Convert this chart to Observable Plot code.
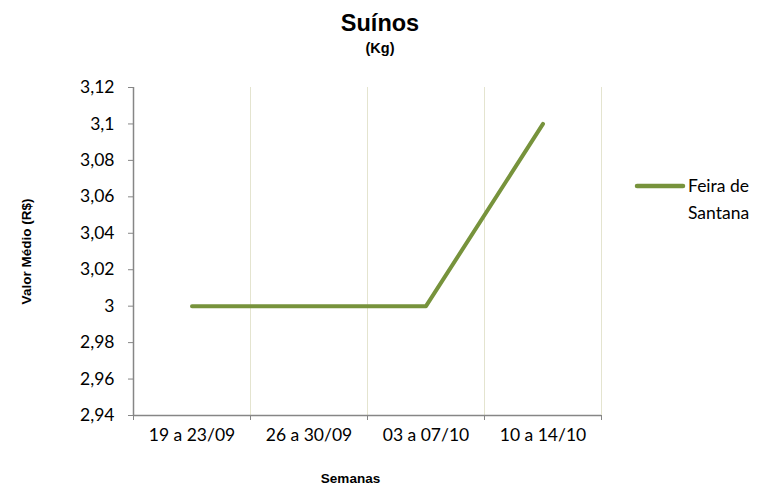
<!DOCTYPE html>
<html>
<head>
<meta charset="utf-8">
<script src="https://cdn.jsdelivr.net/npm/d3@7"></script>
<script src="https://cdn.jsdelivr.net/npm/@observablehq/plot@0.6"></script>
<style>
  body { margin: 0; background: #fff; }
  #wrap { position: relative; width: 758px; height: 488px; overflow: hidden; }
  #head { height: 70px; text-align: center; font-family: "Liberation Sans Narrow", "Arial Narrow", "Liberation Sans", sans-serif; font-weight: bold; color: #000; }
  #title { font-size: 23.5px; padding-top: 10px; line-height: 26px; padding-left: 2px; }
  #sub { font-size: 14.5px; line-height: 18px; margin-top: 3px; padding-left: 2px; }
  #legend { position: absolute; left: 634px; top: 172px; font-family: Lato, "Open Sans", sans-serif; font-size: 17.5px; color: #000; line-height: 27px; }
  #legend svg { position: absolute; left: 0; top: 9px; }
  #legend .txt { margin-left: 54px; }
</style>
</head>
<body>
<div id="wrap">
  <div id="head"><div id="title">Suínos</div><div id="sub">(Kg)</div></div>
  <div id="chart"></div>
  <div id="legend"><svg width="52" height="10"><line x1="3" y1="5" x2="49" y2="5" stroke="#77933C" stroke-width="4.5" stroke-linecap="round"/></svg><div class="txt">Feira de</div><div class="txt">Santana</div></div>
</div>
<script>
const weeks = ["19 a 23/09", "26 a 30/09", "03 a 07/10", "10 a 14/10"];
const prices = [3, 3, 3, 3.1];
const yTicks = [2.94, 2.96, 2.98, 3, 3.02, 3.04, 3.06, 3.08, 3.1, 3.12];
const seriesName = "Feira de Santana";
const yLabel = "Valor Médio (R$)";
const xLabel = "Semanas";

const data = weeks.map((w, i) => ({i, w, v: prices[i]}));
const boundaries = d3.range(-0.5, weeks.length, 1);
const centers = d3.range(weeks.length);
const ptBR = d3.formatLocale({decimal: ",", thousands: ".", grouping: [3], currency: ["R$", ""]});
const fmt = ptBR.format("~g");
const axisGray = "#868686";
const lab = {fontFamily: "Lato, 'Open Sans', sans-serif", fontSize: 17.5};
const narrow = "'Liberation Sans Narrow', 'Liberation Sans', sans-serif";

const chart = Plot.plot({
  width: 758,
  height: 418,
  marginLeft: 133,
  marginRight: 157,
  marginTop: 17,
  marginBottom: 73,
  style: {fontFamily: lab.fontFamily, fontSize: "17.5px", color: "#000", background: "#fff"},
  x: {type: "linear", domain: [-0.5, weeks.length - 0.5]},
  y: {domain: [2.94, 3.12]},
  marks: [
    Plot.ruleX(boundaries.slice(1), {stroke: "#e4e4cf", strokeWidth: 1}),
    Plot.ruleX([-0.5], {stroke: axisGray, strokeWidth: 1.5}),
    Plot.ruleY([2.94], {stroke: axisGray, strokeWidth: 1.5}),
    Plot.axisY({ticks: yTicks, tickFormat: fmt, tickSize: 5, tickPadding: 14, stroke: axisGray, fill: "#000", label: null, ...lab}),
    Plot.axisX({ticks: boundaries, tickFormat: () => "", tickSize: 5, stroke: axisGray, label: null}),
    Plot.axisX({ticks: centers, tickFormat: i => weeks[i], tickSize: 0, tickPadding: 13, fill: "#000", label: null, ...lab}),
    Plot.line(data, {x: "i", y: "v", stroke: "#77933C", strokeWidth: 4, strokeLinecap: "round", strokeLinejoin: "round"}),
    Plot.text([yLabel], {frameAnchor: "left", textAnchor: "middle", dx: -107, rotate: -90, fontWeight: "bold", fontSize: 13.5, fontFamily: narrow}),
    Plot.text([xLabel], {frameAnchor: "bottom", textAnchor: "middle", dy: 67, dx: -17, fontWeight: "bold", fontSize: 13.5, fontFamily: narrow})
  ]
});
document.getElementById("chart").appendChild(chart);
</script>
</body>
</html>
